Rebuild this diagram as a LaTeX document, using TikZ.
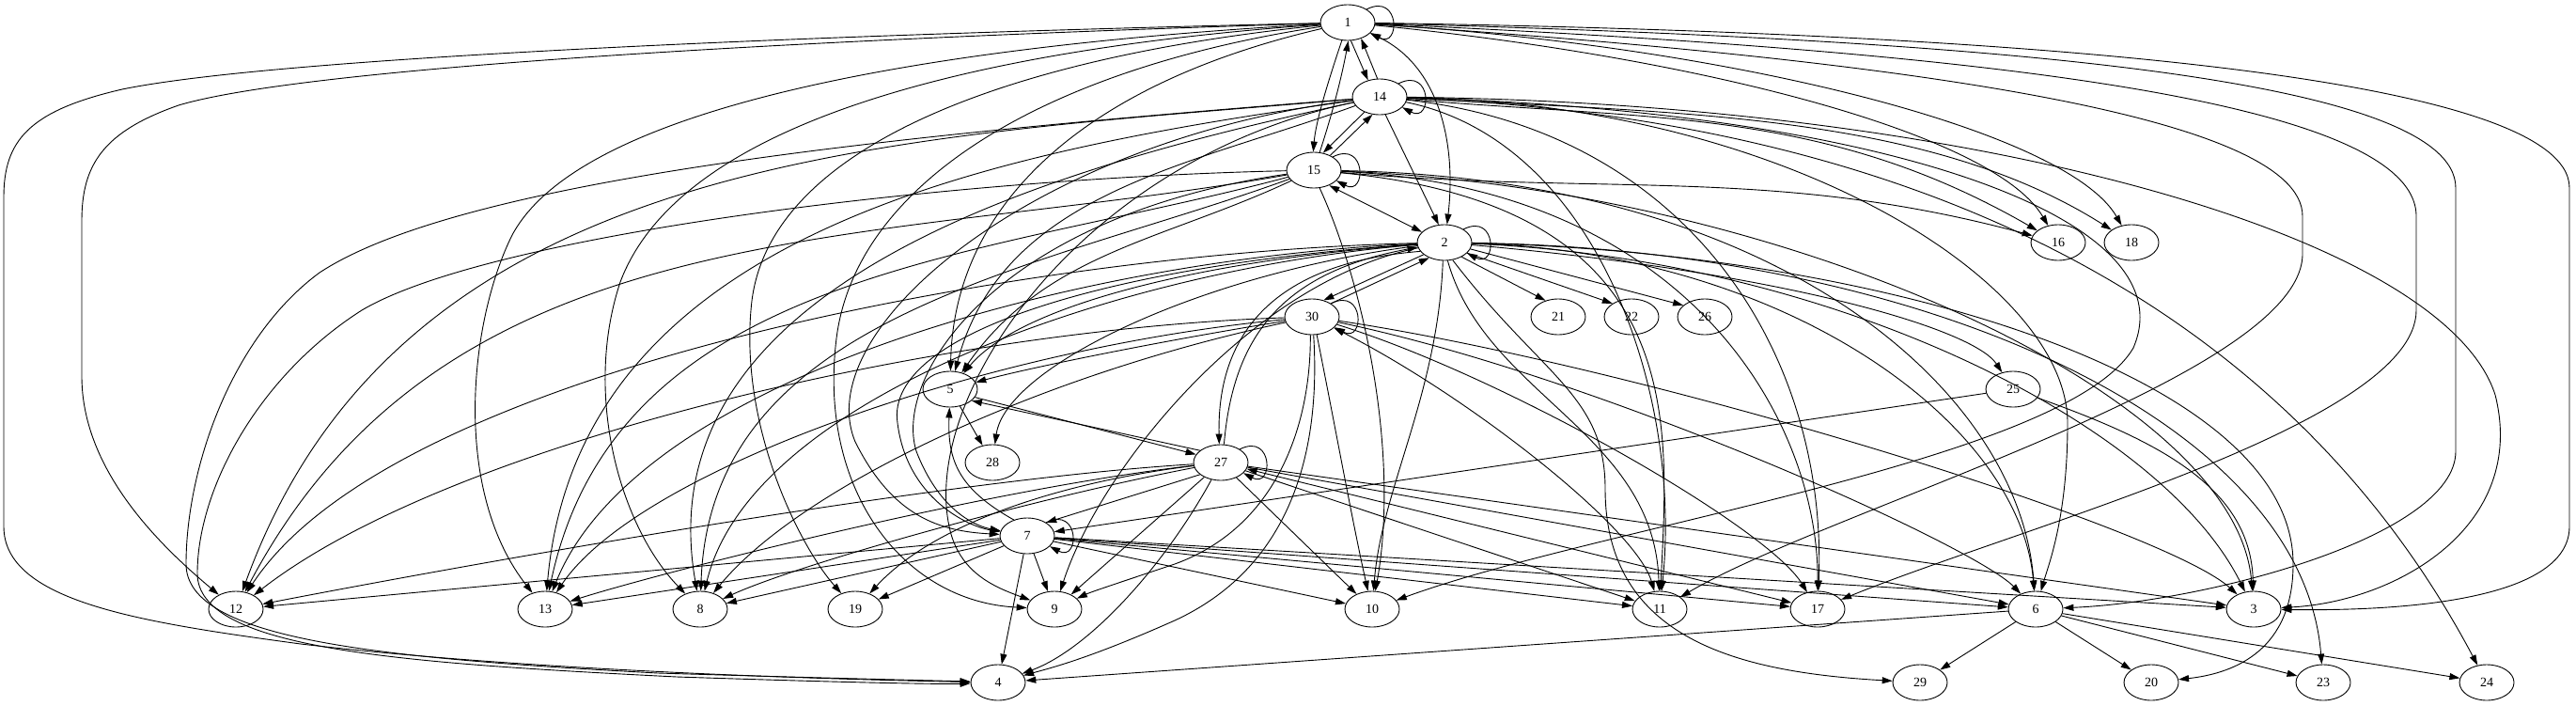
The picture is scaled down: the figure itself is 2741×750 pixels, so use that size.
\documentclass[tikz,border=0pt]{standalone}
\usepackage{fontspec}
\setmainfont{Liberation Serif}
\usetikzlibrary{shapes.geometric,arrows.meta}
\tikzset{
  nd/.style={draw, ellipse, line width=0.9pt, minimum width=58pt, minimum height=38pt, inner sep=0pt, font=\fontsize{14}{14}\selectfont},
  e/.style={line width=0.9pt, -{Triangle[length=11pt,width=7pt]}},
  eb/.style={line width=0.9pt, {Triangle[length=11pt,width=7pt]}-{Triangle[length=11pt,width=7pt]}},
}
\newcommand\lp[1]{\draw[e] (#1.35) .. controls +(36,18) and +(32,-17) .. (#1.-25);}
\begin{document}
\begin{tikzpicture}[x=1pt,y=1pt]
\useasboundingbox (0,0) rectangle (2741,-750);
% nodes
\node[nd] (n1) at (1434,-24) {1};
\node[nd] (n14) at (1468,-103) {14};
\node[nd] (n15) at (1398,-181) {15};
\node[nd] (n2) at (1537,-258) {2};
\node[nd] (n16) at (2190,-258) {16};
\node[nd] (n18) at (2268,-258) {18};
\node[nd] (n30) at (1396,-337) {30};
\node[nd] (n21) at (1658,-337) {21};
\node[nd] (n22) at (1736,-337) {22};
\node[nd] (n26) at (1814,-337) {26};
\node[nd] (n5) at (1011,-414) {5};
\node[nd] (n25) at (2142,-414) {25};
\node[nd] (n28) at (1056,-492) {28};
\node[nd] (n27) at (1299,-492) {27};
\node[nd] (n7) at (1093,-570) {7};
\node[nd] (n12) at (251,-648) {12};
\node[nd] (n13) at (580,-648) {13};
\node[nd] (n8) at (745,-648) {8};
\node[nd] (n19) at (910,-648) {19};
\node[nd] (n9) at (1122,-648) {9};
\node[nd] (n10) at (1460,-648) {10};
\node[nd] (n11) at (1766,-648) {11};
\node[nd] (n17) at (1934,-648) {17};
\node[nd] (n6) at (2166,-648) {6};
\node[nd] (n3) at (2398,-648) {3};
\node[nd] (n4) at (1062,-726) {4};
\node[nd] (n29) at (2043,-726) {29};
\node[nd] (n20) at (2289,-726) {20};
\node[nd] (n23) at (2472,-726) {23};
\node[nd] (n24) at (2646,-726) {24};
% edges from 1
\lp{n1}
\draw[e] (n1.-80) -- (n14.125);
\draw[e] (n14.97) -- (n1.-50);
\draw[e] (n1.-108) .. controls (1412,-90) and (1400,-130) .. (n15.92);
\draw[e] (n15.72) .. controls (1418,-120) and (1428,-80) .. (n1.-88);
\draw[eb] (n1.-25) .. controls (1530,-70) and (1550,-150) .. (n2.82);
\draw[e] (n1) .. controls (900,-36) and (300,-60) .. (130,-95) .. controls (30,-118) and (4,-150) .. (4,-210) -- (4,-560) .. controls (4,-640) and (150,-662) .. (320,-685) .. controls (550,-712) and (850,-722) .. (n4);
\draw[e] (n1) .. controls (900,-40) and (330,-70) .. (190,-112) .. controls (110,-140) and (87,-175) .. (87,-235) -- (87,-400) .. controls (87,-500) and (170,-580) .. (n12);
\draw[e] (n1) .. controls (1000,-48) and (620,-110) .. (545,-250) .. controls (500,-340) and (480,-520) .. (n13);
\draw[e] (n1) .. controls (1000,-55) and (720,-140) .. (660,-300) .. controls (620,-420) and (660,-560) .. (n8);
\draw[e] (n1) .. controls (1060,-62) and (820,-160) .. (800,-320) .. controls (785,-450) and (850,-580) .. (n19);
\draw[e] (n1) .. controls (1100,-75) and (910,-200) .. (890,-360) .. controls (870,-520) and (960,-640) .. (n9);
\draw[e] (n1) .. controls (1150,-90) and (1015,-220) .. (n5);
\draw[e] (n1) .. controls (1800,-60) and (2120,-140) .. (n16);
\draw[e] (n1) .. controls (1850,-50) and (2200,-140) .. (n18);
\draw[e] (n1) .. controls (2150,-35) and (2734,-80) .. (2734,-200) -- (2734,-560) .. controls (2734,-640) and (2550,-650) .. (n3);
\draw[e] (n1) .. controls (2100,-42) and (2613,-80) .. (2613,-200) -- (2613,-480) .. controls (2613,-570) and (2350,-640) .. (n6);
\draw[e] (n1) .. controls (2050,-52) and (2571,-100) .. (2571,-230) -- (2571,-330) .. controls (2571,-450) and (2150,-560) .. (n17);
\draw[e] (n1) .. controls (2000,-62) and (2450,-120) .. (2450,-230) -- (2450,-270) .. controls (2450,-400) and (1950,-540) .. (n11);
% edges from 14
\lp{n14}
\draw[e] (n14.-135) -- (n15.62);
\draw[e] (n15.42) -- (n14.-112);
\draw[e] (n14.-72) -- (n2.108);
\draw[e] (n14) .. controls (1000,-140) and (500,-185) .. (340,-290) .. controls (245,-360) and (198,-500) .. (198,-600) .. controls (198,-680) and (400,-700) .. (700,-716) .. controls (900,-722) and (1000,-724) .. (n4);
\draw[e] (n14) .. controls (948,-148) and (429,-158) .. (n12);
\draw[e] (n14) .. controls (1064,-160) and (616,-242) .. (n13);
\draw[e] (n14) .. controls (1122,-177) and (684,-299) .. (n8);
\draw[e] (n14) .. controls (1100,-150) and (860,-350) .. (910,-470) .. controls (950,-550) and (1000,-565) .. (n7);
\draw[e] (n14) .. controls (1150,-170) and (980,-420) .. (1010,-560) .. controls (1020,-610) and (1060,-625) .. (n9);
\draw[e] (n14) .. controls (1265,-177) and (1067,-205) .. (n5);
\draw[e] (n14) .. controls (1756,-128) and (1940,-114) .. (n16);
\draw[e] (n14) .. controls (1786,-120) and (2050,-120) .. (n18);
\draw[e] (n14) .. controls (2100,-110) and (2600,-250) .. (2655,-420) .. controls (2690,-560) and (2550,-640) .. (n3);
\draw[e] (n14) .. controls (1900,-110) and (2200,-300) .. (2200,-450) .. controls (2200,-550) and (2180,-600) .. (n6);
\draw[e] (n14) .. controls (1800,-140) and (1945,-380) .. (n17);
\draw[e] (n14) .. controls (2000,-125) and (2420,-300) .. (n24);
\draw[e] (n14) .. controls (2000,-118) and (2330,-230) .. (2270,-370) .. controls (2200,-490) and (1700,-560) .. (n10);
\draw[e] (n14) .. controls (1700,-150) and (1790,-420) .. (n11);
% edges from 15
\lp{n15}
\draw[eb] (n15.-45) -- (n2.155);
\draw[e] (n15) .. controls (1000,-190) and (520,-250) .. (385,-330) .. controls (275,-400) and (210,-520) .. (210,-610) .. controls (210,-690) and (420,-705) .. (720,-720) .. controls (900,-726) and (1000,-728) .. (n4);
\draw[e] (n15) .. controls (920,-265) and (478,-220) .. (n12);
\draw[e] (n15) .. controls (1042,-276) and (657,-287) .. (n13);
\draw[e] (n15) .. controls (1103,-288) and (756,-334) .. (n8);
\draw[e] (n15) .. controls (1060,-230) and (950,-400) .. (975,-480) .. controls (1000,-545) and (1040,-560) .. (n7);
\draw[e] (n15) .. controls (1238,-256) and (1112,-269) .. (n5);
\draw[e] (n15.-72) .. controls (1450,-300) and (1490,-480) .. (n10);
\draw[e] (n15) .. controls (1709,-208) and (1889,-177) .. (n16);
\draw[e] (n15) .. controls (1900,-190) and (2150,-420) .. (n6);
\draw[e] (n15) .. controls (1900,-200) and (2380,-420) .. (n3);
\draw[e] (n15) .. controls (1800,-220) and (1775,-450) .. (n11);
\draw[e] (n15) .. controls (1800,-200) and (1935,-450) .. (n17);
% edges from 2
\lp{n2}
\draw[e] (n2.-150) -- (n30.55);
\draw[e] (n30.35) -- (n2.-135);
\draw[e] (n2.-160) .. controls (1350,-280) and (1295,-360) .. (n27.95);
\draw[e] (n27.80) .. controls (1312,-360) and (1362,-290) .. (n2.-170);
\draw[e] (n2.-40) -- (n21.128);
\draw[e] (n2.-25) -- (n22.145);
\draw[e] (n2.-14) -- (n26.152);
\draw[e] (n2) .. controls (1900,-290) and (2100,-350) .. (n25);
\draw[e] (n2) .. controls (1300,-275) and (1090,-320) .. (n5);
\draw[e] (n2) .. controls (1280,-290) and (1070,-390) .. (n28);
\draw[e] (n2) .. controls (1200,-280) and (940,-350) .. (955,-450) .. controls (965,-530) and (1030,-560) .. (n7);
\draw[e] (n2) .. controls (1330,-300) and (1170,-500) .. (n9);
\draw[e] (n2.-95) .. controls (1530,-420) and (1470,-520) .. (n10);
\draw[e] (n2.-80) .. controls (1580,-420) and (1760,-460) .. (n11);
\draw[e] (n2.-65) .. controls (1640,-400) and (1708,-420) .. (1708,-520) .. controls (1708,-680) and (1850,-715) .. (n29);
\draw[e] (n2) .. controls (1900,-268) and (2150,-450) .. (n6);
\draw[e] (n2) .. controls (1950,-275) and (2300,-450) .. (n3);
\draw[e] (n2) .. controls (2000,-268) and (2440,-400) .. (2440,-600) .. controls (2440,-690) and (2380,-716) .. (n20);
\draw[e] (n2) .. controls (2050,-265) and (2450,-450) .. (n23);
\draw[e] (n2) .. controls (1100,-268) and (420,-390) .. (n12);
\draw[e] (n2) .. controls (1150,-275) and (680,-400) .. (n13);
\draw[e] (n2) .. controls (1200,-285) and (800,-420) .. (n8);
% edges from 30
\lp{n30}
\draw[e] (n30) .. controls (1250,-360) and (1100,-390) .. (n5);
\draw[e] (n30) .. controls (1000,-350) and (480,-470) .. (n12);
\draw[e] (n30) .. controls (1050,-370) and (680,-500) .. (n13);
\draw[e] (n30) .. controls (1100,-400) and (850,-520) .. (n8);
\draw[e] (n30.-95) .. controls (1395,-450) and (1360,-560) .. (1250,-600) .. controls (1190,-620) and (1160,-630) .. (n9);
\draw[e] (n30.-85) .. controls (1405,-470) and (1380,-600) .. (1250,-660) .. controls (1160,-700) and (1120,-710) .. (n4);
\draw[e] (n30.-75) .. controls (1420,-450) and (1440,-560) .. (n10);
\draw[eb] (n30) .. controls (1560,-420) and (1740,-560) .. (n11);
\draw[e] (n30) .. controls (1600,-400) and (1880,-560) .. (n17);
\draw[e] (n30) .. controls (1700,-400) and (2100,-580) .. (n6);
\draw[e] (n30) .. controls (1750,-390) and (2300,-560) .. (n3);
% edges from 27
\lp{n27}
\draw[e] (n5.-18) -- (n27.162);
\draw[e] (n27.150) -- (n5.-28);
\draw[e] (n27.-150) -- (n7.35);
\draw[e] (n27) .. controls (1000,-510) and (500,-600) .. (n12);
\draw[e] (n27) .. controls (1050,-520) and (700,-610) .. (n13);
\draw[e] (n27) .. controls (1100,-530) and (850,-600) .. (n8);
\draw[e] (n27) .. controls (1150,-510) and (1000,-550) .. (n19);
\draw[e] (n27) -- (n9);
\draw[e] (n27) .. controls (1240,-600) and (1160,-690) .. (n4);
\draw[e] (n27) -- (n10);
\draw[e] (n27) -- (n11);
\draw[eb] (n27) -- (n17);
\draw[e] (n27) -- (n6);
\draw[e] (n27) -- (n3);
% edges from 7
\lp{n7}
\draw[e] (n7.130) .. controls (1020,-520) and (1008,-490) .. (n5.-92);
\draw[e] (n7) -- (n9);
\draw[e] (n7) -- (n4);
\draw[e] (n7) -- (n12);
\draw[e] (n7) -- (n13);
\draw[e] (n7) -- (n8);
\draw[e] (n7) -- (n19);
\draw[e] (n7) -- (n10);
\draw[e] (n7) -- (n11);
\draw[e] (n7) -- (n17);
\draw[e] (n7) -- (n6);
\draw[e] (n7) -- (n3);
% others
\draw[e] (n5) -- (n28);
\draw[e] (n25) -- (n7);
\draw[e] (n25) .. controls (2300,-470) and (2395,-520) .. (n3);
\draw[e] (n6) -- (n4);
\draw[e] (n6) -- (n29);
\draw[e] (n6) -- (n20);
\draw[e] (n6) -- (n23);
\draw[e] (n6) -- (n24);
\end{tikzpicture}
\end{document}
